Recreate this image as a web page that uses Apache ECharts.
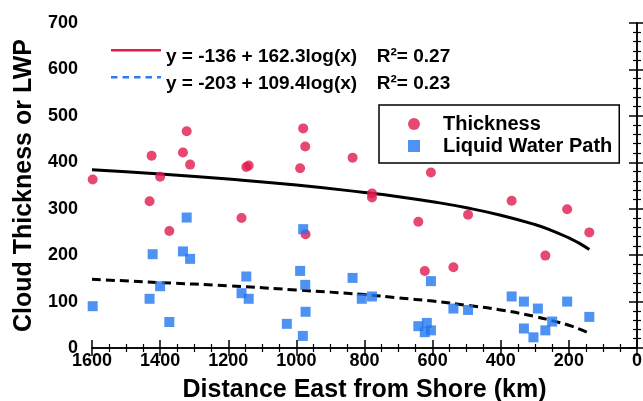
<!DOCTYPE html>
<html><head><meta charset="utf-8">
<script src="https://cdn.jsdelivr.net/npm/echarts@6/dist/echarts.min.js"></script>
<style>html,body{margin:0;padding:0;background:#fff}#c{width:643px;height:401px}</style>
</head><body><div id="c"></div>
<script>
const thicknessX = [1598,1425,1431,1400,1373,1333,1322,1312,1161,1147,1140,989,980,974,973,835,778,778,642,623,605,539,496,368,269,205,140];
const thicknessY = [363,414,316,369,252,421,467,395,280,390,393,387,473,434,245,410,333,324,272,166,378,174,287,317,199,299,249];
const lwpX = [1598,1431,1422,1400,1373,1333,1322,1312,1161,1147,1140,1028,989,980,981,974,973,835,808,778,642,617,623,605,605,539,496,368,332,332,304,291,269,249,205,140];
const lwpY = [90,106,202,133,56,208,281,192,118,154,106,52,166,256,26,136,78,151,106,111,47,54,34,38,144,85,82,111,100,42,23,85,38,57,100,67];
const fitX = [1600,1400,1200,1000,800,700,600,500,400,300,250,200,170,140];
const fitThick = [384,375,364,351,335,326,315,302,286,266,253,237,226,212];
const fitLwp = [148,141,134,125,115,108,101,92,82,68,59,49,41,32];
const nameThick = 'y = -136 + 162.3log(x)   \u2009R\u00B2= 0.27';
const nameLwp = 'y = -203 + 109.4log(x)   \u2009R\u00B2= 0.23';

const zip = (a,b)=>a.map((v,i)=>[v,b[i]]);
const F = 'Liberation Sans, Arial, sans-serif';
const RED = '#e8194f', BLUE = '#2f7cf0';
const chart = echarts.init(document.getElementById('c'));
const tickCommon = {show:true, inside:true, length:8, lineStyle:{color:'#000',width:1.5}};
const minorCommon = {show:true, length:4, lineStyle:{color:'#000',width:1.2}};
const plain = v => String(v);
// legend icons: a bar at the top of a 50x16 box so the label sits below the sample line
const solidIcon = 'path://M0 0H50V2.5H0Z M0 15.98H0.02V16H0Z';
const dashIcon = 'path://M0 0H6.5V2.5H0Z M11.5 0H18V2.5H11.5Z M23 0H29.5V2.5H23Z M34.5 0H41V2.5H34.5Z M46 0H50V2.5H46Z M0 15.98H0.02V16H0Z';
chart.setOption({
  animation:false,
  grid:{left:92,right:6,top:23,bottom:53,outerBoundsMode:'none',containLabel:false},
  legend:[{
    left:111, top:47.5, orient:'vertical', itemWidth:50, itemHeight:16, itemGap:8, padding:0,
    symbolKeepAspect:false,
    textStyle:{fontFamily:F,fontWeight:'bold',fontSize:19,lineHeight:19,color:'#000'},
    data:[{name:nameThick,icon:solidIcon,
           itemStyle:{color:RED,borderColor:RED,borderWidth:0,opacity:1},
           lineStyle:{color:RED,width:0}},
          {name:nameLwp,icon:dashIcon,
           itemStyle:{color:BLUE,borderColor:BLUE,borderWidth:0,opacity:1},
           lineStyle:{color:BLUE,width:0}}]
  },{
    left:379, top:105, orient:'vertical', itemWidth:12, itemHeight:12, itemGap:2,
    padding:[9,7,7,29],
    borderColor:'#000', borderWidth:1.5, backgroundColor:'#fff',
    textStyle:{fontFamily:F,fontWeight:'bold',fontSize:20,lineHeight:20,color:'#000',padding:[0,0,0,18]},
    data:['Thickness','Liquid Water Path']
  }],
  xAxis:[{
    type:'value', min:0, max:1600, interval:200, inverse:true,
    name:'Distance East from Shore (km)', nameLocation:'middle', nameGap:30,
    nameTextStyle:{fontFamily:F,fontWeight:'bold',fontSize:25,color:'#000'},
    axisLine:{show:true,lineStyle:{color:'#000',width:1.5}},
    axisTick:tickCommon, minorTick:Object.assign({splitNumber:4},minorCommon),
    splitLine:{show:false},
    axisLabel:{fontFamily:F,fontWeight:'bold',fontSize:18,color:'#000',margin:4,formatter:plain}
  },{
    type:'value', min:0, max:1600, interval:200, inverse:true, position:'top',
    axisLine:{show:true,lineStyle:{color:'#000',width:1.5}},
    axisTick:tickCommon, minorTick:Object.assign({splitNumber:4},minorCommon),
    splitLine:{show:false}, axisLabel:{show:false}
  }],
  yAxis:[{
    type:'value', min:0, max:700, interval:100,
    name:'Cloud Thickness or LWP', nameLocation:'middle', nameGap:51,
    nameTextStyle:{fontFamily:F,fontWeight:'bold',fontSize:25,color:'#000'},
    axisLine:{show:true,lineStyle:{color:'#000',width:1.5}},
    axisTick:tickCommon, minorTick:Object.assign({splitNumber:5},minorCommon),
    splitLine:{show:false},
    axisLabel:{fontFamily:F,fontWeight:'bold',fontSize:18,color:'#000',margin:14,formatter:plain}
  },{
    type:'value', min:0, max:700, interval:100, position:'right',
    axisLine:{show:true,lineStyle:{color:'#000',width:1.5}},
    axisTick:tickCommon, minorTick:Object.assign({splitNumber:5},minorCommon),
    splitLine:{show:false}, axisLabel:{show:false}
  }],
  series:[
    {name:nameThick,type:'line',data:zip(fitX,fitThick),smooth:true,symbol:'none',
     lineStyle:{color:'#000',width:3},z:3},
    {name:nameLwp,type:'line',data:zip(fitX,fitLwp),smooth:true,symbol:'none',
     lineStyle:{color:'#000',width:3,type:[9,5]},z:3},
    {name:'Thickness',type:'scatter',data:zip(thicknessX,thicknessY),symbol:'circle',symbolSize:10,
     itemStyle:{color:'#e01a4f'},z:4},
    {name:'Liquid Water Path',type:'scatter',data:zip(lwpX,lwpY),symbol:'rect',symbolSize:10,
     itemStyle:{color:'#2277f0'},z:4}
  ]
});
</script></body></html>
